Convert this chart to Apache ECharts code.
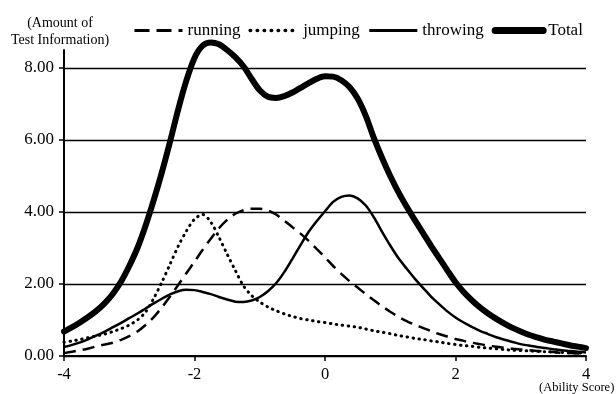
<!DOCTYPE html>
<html>
<head>
<meta charset="utf-8">
<script src="https://cdn.jsdelivr.net/npm/echarts@6/dist/echarts.min.js"></script>
<style>
html,body{margin:0;padding:0;background:#fff;}
#chart{width:616px;height:394px;}
</style>
</head>
<body>
<div id="chart"></div>
<script>
var abilityScores = [-4,-3.875,-3.75,-3.625,-3.5,-3.375,-3.25,-3.125,-3,-2.875,-2.75,-2.625,-2.5,-2.375,-2.25,-2.125,-2,-1.875,-1.75,-1.625,-1.5,-1.375,-1.25,-1.125,-1,-0.875,-0.75,-0.625,-0.5,-0.375,-0.25,-0.125,0,0.125,0.25,0.375,0.5,0.625,0.75,0.875,1,1.125,1.25,1.375,1.5,1.625,1.75,1.875,2,2.125,2.25,2.375,2.5,2.625,2.75,2.875,3,3.125,3.25,3.375,3.5,3.625,3.75,3.875,4];
var running  = [0.08,0.12,0.16,0.21,0.27,0.32,0.37,0.45,0.55,0.68,0.86,1.08,1.35,1.65,1.97,2.3,2.62,2.95,3.26,3.55,3.78,3.95,4.05,4.09,4.09,4.04,3.93,3.76,3.58,3.4,3.2,2.97,2.74,2.5,2.28,2.08,1.9,1.72,1.55,1.38,1.23,1.09,0.97,0.87,0.78,0.69,0.61,0.54,0.47,0.42,0.37,0.33,0.29,0.26,0.23,0.2,0.18,0.16,0.14,0.12,0.11,0.09,0.08,0.07,0.06];
var jumping  = [0.38,0.42,0.46,0.51,0.56,0.61,0.68,0.76,0.86,1.0,1.22,1.6,2.05,2.55,3.05,3.47,3.8,3.93,3.72,3.3,2.83,2.38,1.95,1.68,1.5,1.36,1.26,1.17,1.1,1.04,1.0,0.96,0.93,0.89,0.86,0.83,0.8,0.75,0.7,0.66,0.62,0.57,0.53,0.49,0.46,0.42,0.39,0.35,0.32,0.29,0.27,0.24,0.22,0.2,0.18,0.16,0.15,0.14,0.13,0.12,0.11,0.1,0.09,0.085,0.08];
var throwing = [0.25,0.31,0.38,0.47,0.57,0.68,0.8,0.92,1.05,1.18,1.32,1.46,1.59,1.71,1.8,1.84,1.83,1.78,1.72,1.64,1.57,1.51,1.5,1.54,1.64,1.8,2.02,2.33,2.7,3.08,3.45,3.75,4.02,4.28,4.42,4.46,4.38,4.18,3.85,3.45,3.07,2.72,2.43,2.15,1.9,1.65,1.44,1.24,1.07,0.93,0.81,0.7,0.61,0.52,0.45,0.39,0.33,0.29,0.25,0.22,0.19,0.16,0.14,0.12,0.1];
var total    = [0.68,0.8,0.94,1.09,1.26,1.47,1.73,2.07,2.5,3.0,3.62,4.33,5.1,5.95,6.85,7.65,8.28,8.62,8.71,8.66,8.5,8.3,8.05,7.7,7.38,7.2,7.17,7.22,7.32,7.45,7.58,7.7,7.77,7.76,7.66,7.47,7.15,6.67,6.05,5.5,5.0,4.55,4.15,3.78,3.42,3.06,2.72,2.38,2.05,1.78,1.55,1.35,1.18,1.03,0.9,0.78,0.68,0.59,0.52,0.45,0.4,0.35,0.3,0.26,0.22];
var yTicks = [0,2,4,6,8];
var seriesNames = ['running','jumping','throwing','Total'];

function pairs(ys){ return abilityScores.map(function(x,i){ return [x, ys[i]]; }); }

var font = 'Liberation Serif';
var chart = echarts.init(document.getElementById('chart'));
chart.setOption({
  animation:false,
  backgroundColor:'#fff',
  grid:{left:64,right:30,top:50,bottom:38},
  legend:{
    data:[
      {name:seriesNames[0],lineStyle:{type:[15,7],width:3}},
      {name:seriesNames[1],lineStyle:{type:[0.5,6.5],width:3.5,cap:'round'}},
      {name:seriesNames[2],lineStyle:{width:3}},
      {name:seriesNames[3],lineStyle:{width:7,cap:'round'}}
    ],
    left:128, top:17, itemWidth:48, itemHeight:14, itemGap:8,
    itemStyle:{opacity:0},
    textStyle:{fontFamily:font,fontSize:17,color:'#000'}
  },
  graphic:[
    {type:'text',x:60,y:15,style:{text:'(Amount of\nTest Information)',fontFamily:font,fontSize:14,fill:'#000',align:'center',lineHeight:17}},
    {type:'text',x:539,y:381,style:{text:'(Ability Score)',fontFamily:font,fontSize:12.5,fill:'#000'}}
  ],
  xAxis:{
    type:'value', min:-4, max:4, interval:2,
    axisLine:{show:true,onZero:false,lineStyle:{color:'#000',width:2}},
    axisTick:{show:true,length:5,lineStyle:{color:'#000',width:1.5}},
    axisLabel:{fontFamily:font,fontSize:16.5,color:'#000',margin:10},
    splitLine:{show:false}
  },
  yAxis:{
    type:'value', min:0, max:8.5, interval:2,
    axisLine:{show:true,onZero:false,lineStyle:{color:'#000',width:2}},
    axisTick:{show:true,length:5,customValues:yTicks,lineStyle:{color:'#000',width:1.5}},
    axisLabel:{fontFamily:font,fontSize:17,color:'#000',margin:10,customValues:yTicks,
      formatter:function(v){return v.toFixed(2);}},
    splitLine:{show:true,lineStyle:{color:['#000','#000','#000','#000','#000','rgba(0,0,0,0)'],width:1.3}}
  },
  series:[
    {name:'running',type:'line',smooth:0.3,showSymbol:false,symbol:'none',clip:false,data:pairs(running),
      lineStyle:{color:'#000',width:2.5,type:[12,7]},itemStyle:{color:'#000'}},
    {name:'jumping',type:'line',smooth:0.3,showSymbol:false,symbol:'none',clip:false,data:pairs(jumping),
      lineStyle:{color:'#000',width:3,type:[0.5,5.5],cap:'round'},itemStyle:{color:'#000'}},
    {name:'throwing',type:'line',smooth:0.3,showSymbol:false,symbol:'none',clip:false,data:pairs(throwing),
      lineStyle:{color:'#000',width:2.5},itemStyle:{color:'#000'}},
    {name:'Total',type:'line',smooth:0.3,showSymbol:false,symbol:'none',clip:false,data:pairs(total),
      lineStyle:{color:'#000',width:6,cap:'round',join:'round'},itemStyle:{color:'#000'}}
  ]
});
</script>
</body>
</html>
